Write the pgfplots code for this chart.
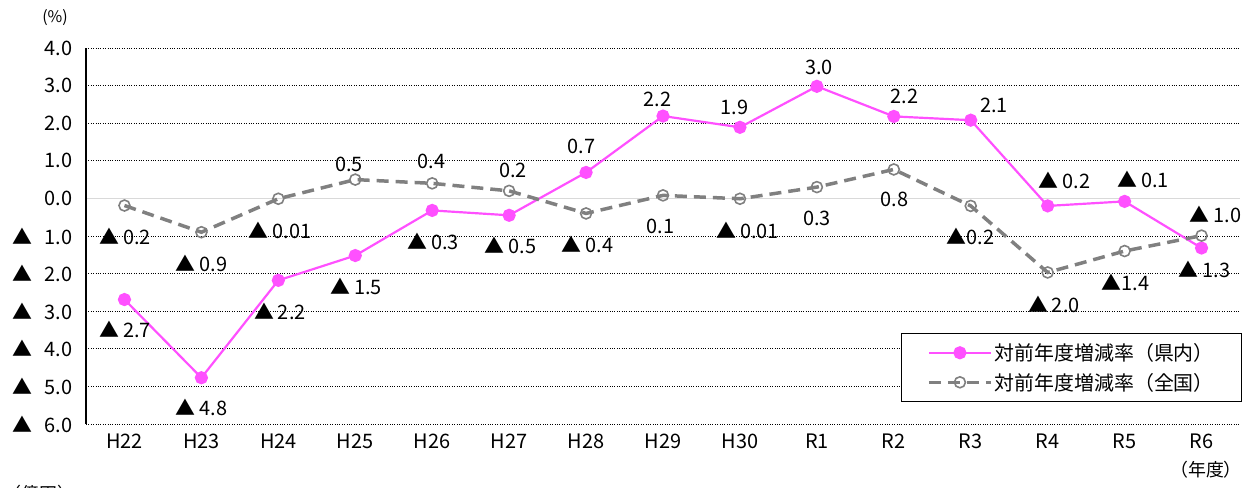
\documentclass[border=0pt]{standalone}
\usepackage{fontspec}
\setmainfont{Noto Sans CJK JP}
\usepackage{pgfplots}
\pgfplotsset{compat=1.18}
\definecolor{pinkc}{RGB}{255,80,255}
\definecolor{greyc}{RGB}{128,128,128}
\newcommand{\tri}{▲\hspace{4bp}}
\begin{document}
\begin{tikzpicture}[x=1bp,y=1bp,lab/.style={font=\fontsize{20}{20}\selectfont,inner sep=0pt}]
\begin{axis}[
 at={(86bp,64bp)}, anchor=south west,
 width=1154bp, height=376bp, scale only axis,
 xmin=-0.5, xmax=14.5, ymin=-6, ymax=4,
 clip=false,
 xtick={0,...,14},
 xticklabels={H22,H23,H24,H25,H26,H27,H28,H29,H30,R1,R2,R3,R4,R5,R6},
 ytick={-6,-5,-4,-3,-2,-1,1,2,3,4},
 yticklabels={▲\hspace{12bp}6.0,▲\hspace{12bp}5.0,▲\hspace{12bp}4.0,▲\hspace{12bp}3.0,▲\hspace{12bp}2.0,▲\hspace{12bp}1.0,1.0,2.0,3.0,4.0},
 extra y ticks={0}, extra y tick labels={0.0},
 extra y tick style={grid style={solid, draw=black!15, line width=1.2pt}},
 major tick length=0,
 axis line style={draw=none},
 ymajorgrids,
 grid style={black, dotted, line width=0.7pt},
 tick label style={font=\fontsize{20}{20}\selectfont},
 yticklabel style={xshift=-10bp},
 xticklabel style={yshift=-6bp},
 legend style={at={(rel axis cs:1.002,0.242)}, anchor=north east, draw=black, line width=1pt,
   font=\fontsize{20}{20}\selectfont, inner xsep=26bp, inner ysep=8bp,
   row sep=7bp, cells={anchor=west}},
 legend image code/.code={\draw[mark repeat=2,mark phase=2,#1] plot coordinates {(0bp,0bp) (31bp,0bp) (62bp,0bp)};},
]
\draw[black, line width=1.2pt] (rel axis cs:0,0) -- (rel axis cs:0,1);
\addplot[pinkc, line width=2.2pt, mark=*, mark size=5.5bp, mark options={fill=pinkc, draw=pinkc, solid}] coordinates {
 (0,-2.69) (1,-4.77) (2,-2.18) (3,-1.52) (4,-0.32) (5,-0.45) (6,0.69) (7,2.19) (8,1.89)
 (9,2.98) (10,2.18) (11,2.08) (12,-0.2) (13,-0.08) (14,-1.32)};
\addlegendentry{対前年度増減率（県内）}
\addplot[greyc, line width=3.5pt, dash pattern=on 12bp off 7bp, mark=o, mark size=5.5bp, mark options={draw=greyc, fill=white, solid, line width=1.6pt}] coordinates {
 (0,-0.19) (1,-0.9) (2,-0.01) (3,0.5) (4,0.4) (5,0.2) (6,-0.4) (7,0.08) (8,-0.01)
 (9,0.3) (10,0.77) (11,-0.2) (12,-1.97) (13,-1.4) (14,-0.99)};
\addlegendentry{対前年度増減率（全国）}
% labels
\node[lab] at (axis cs:0.01,-1.01) {\tri 0.2};
\node[lab] at (axis cs:0.01,-3.48) {\tri 2.7};
\node[lab] at (axis cs:1.0,-1.73) {\tri 0.9};
\node[lab] at (axis cs:1.0,-5.56) {\tri 4.8};
\node[lab] at (axis cs:2.02,-0.85) {\tri 0.01};
\node[lab] at (axis cs:2.02,-3.0) {\tri 2.2};
\node[lab] at (axis cs:2.92,0.90) {0.5};
\node[lab] at (axis cs:3.01,-2.34) {\tri 1.5};
\node[lab] at (axis cs:3.99,0.98) {0.4};
\node[lab] at (axis cs:4.01,-1.14) {\tri 0.3};
\node[lab] at (axis cs:5.05,0.74) {0.2};
\node[lab] at (axis cs:5.02,-1.25) {\tri 0.5};
\node[lab] at (axis cs:5.94,1.38) {0.7};
\node[lab] at (axis cs:6.02,-1.22) {\tri 0.4};
\node[lab] at (axis cs:6.93,2.63) {2.2};
\node[lab] at (axis cs:6.97,-0.74) {0.1};
\node[lab] at (axis cs:7.93,2.42) {1.9};
\node[lab] at (axis cs:8.1,-0.85) {\tri 0.01};
\node[lab] at (axis cs:9.03,3.48) {3.0};
\node[lab] at (axis cs:9.0,-0.53) {0.3};
\node[lab] at (axis cs:10.14,2.71) {2.2};
\node[lab] at (axis cs:10.01,-0.03) {0.8};
\node[lab] at (axis cs:11.3,2.47) {2.1};
\node[lab] at (axis cs:11.0,-1.01) {▲0.2};
\node[lab] at (axis cs:12.22,0.48) {\tri 0.2};
\node[lab] at (axis cs:12.08,-2.82) {\tri 2.0};
\node[lab] at (axis cs:13.24,0.5) {\tri 0.1};
\node[lab] at (axis cs:13.01,-2.23) {▲1.4};
\node[lab] at (axis cs:14.18,-0.42) {\tri 1.0};
\node[lab] at (axis cs:14.04,-1.89) {\tri 1.3};
\end{axis}
\node[font=\fontsize{16}{16}\selectfont] at (55,470) {(\%)};
\node[font=\fontsize{18}{18}\selectfont] at (1206,18) {（年度）};
\node[font=\fontsize{18}{18}\selectfont,anchor=west] at (0,-6) {（億円）};
\pgfresetboundingbox
\path[use as bounding box] (0,0) rectangle (1258,488);
\end{tikzpicture}
\end{document}
